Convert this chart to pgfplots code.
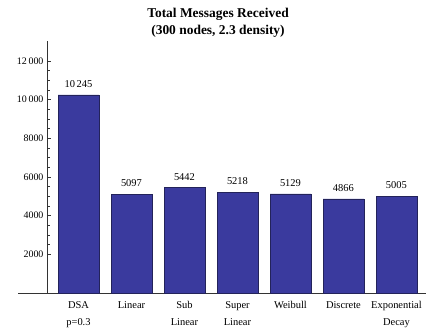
\documentclass[border=0pt]{standalone}
\usepackage{fontspec}
\setmainfont{Liberation Serif}
\usepackage{pgfplots}
\pgfplotsset{compat=1.18}
\usepackage{pgfplotstable}
\definecolor{barfill}{RGB}{58,58,158}
\definecolor{baredge}{RGB}{35,35,90}
\pgfplotstableread{
x val
0 10245
1 5097
2 5442
3 5218
4 5129
5 4866
6 5005
}\datatable
\begin{document}
\begin{tikzpicture}
\path[use as bounding box] (0,0) rectangle (426bp,331bp);
\node[anchor=base,font={\fontsize{13.5}{16}\selectfont\bfseries}] at (218bp,313bp) {Total Messages Received};
\node[anchor=base,font={\fontsize{13.5}{16}\selectfont\bfseries}] at (218bp,296bp) {(300 nodes, 2.3 density)};
\begin{axis}[
  at={(47bp,38bp)}, anchor=south west,
  scale only axis,
  width=378.6bp, height=251.5bp,
  xmin=-0.594, xmax=6.55,
  ymin=0, ymax=13000,
  clip=false,
  axis x line*=bottom, axis y line*=left,
  axis line style={black!80, line width=0.6bp, -},
  xtick=data,
  xticklabels={{DSA\\p=0.3},{Linear},{Sub\\Linear},{Super\\Linear},{Weibull},{Discrete},{Exponential\\Decay}},
  xticklabel style={align=center, font={\fontsize{10.5}{17}\selectfont}, yshift=-1bp},
  major x tick style={draw=none},
  ytick={2000,4000,6000,8000,10000,12000},
  scaled y ticks=false,
  minor y tick num=3,
  tick align=inside,
  major tick length=4bp, minor tick length=2.5bp,
  tick style={black!80, line width=0.5bp},
  yticklabel style={font={\fontsize{10}{12}\selectfont}},
  /pgf/number format/assume math mode=true,
  /pgf/number format/1000 sep={\,},
  /pgf/number format/min exponent for 1000 sep=4,
  ybar, bar width=0.77,
  nodes near coords,
  every node near coord/.append style={font={\fontsize{10.5}{12}\selectfont}, yshift=4bp, black},
]
\addplot[fill=barfill, draw=baredge, line width=0.5bp] table[x=x, y=val] {\datatable};
\draw[black!80, line width=0.6bp] (axis cs:-1.141,0) -- (axis cs:-0.594,0);
\end{axis}
\end{tikzpicture}
\end{document}
